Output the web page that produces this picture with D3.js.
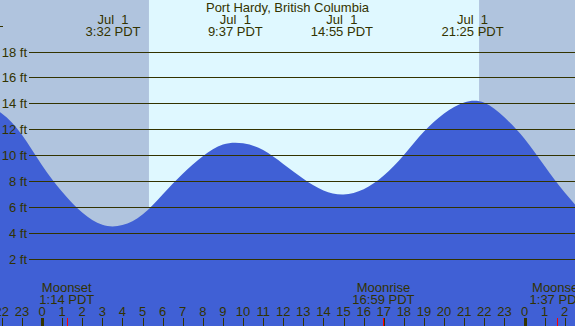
<!DOCTYPE html>
<html>
<head>
<meta charset="utf-8">
<script src="https://cdn.jsdelivr.net/npm/d3@7"></script>
<style>
  body { margin: 0; background: #fff; }
  svg { display: block; }
  text { font-family: "Liberation Sans", Arial, sans-serif; font-size: 13px; fill: #333300; white-space: pre; }
</style>
</head>
<body>
<script>
// hours from midnight Jul 1 (PDT) and tide heights in feet
var tideHours = d3.range(-3, 28);
var tideFt = [13.9, 13.25, 11.6, 9.25, 7.2, 5.6, 4.65, 4.63, 5.45, 7.0, 8.6, 9.95, 10.85, 10.95, 10.42, 9.35,
  8.2, 7.3, 7.0, 7.4, 8.45, 10.05, 11.85, 13.25, 14.1, 14.08, 12.95, 11.3, 9.2, 7.15, 5.4];

var extremeHours = [3.533, 9.617, 14.917, 21.417];
var extremeDates = ["Jul  1", "Jul  1", "Jul  1", "Jul  1"];
var extremeLabels = ["3:32 PDT", "9:37 PDT", "14:55 PDT", "21:25 PDT"];

var moonHours = [1.233, 16.983, 25.617];
var moonNames = ["Moonset", "Moonrise", "Moonset"];
var moonLabels = ["1:14 PDT", "16:59 PDT", "1:37 PDT"];

var sunrise = 5.32, sunset = 21.74;
var depthTicks = [2, 4, 6, 8, 10, 12, 14, 16, 18];
var hourTicks = d3.range(-2, 27);
var titre = "Port Hardy, British Columbia";

var width = 575, height = 326;
var ink = "#333300";

var svg = d3.select("body").append("svg")
  .attr("width", width)
  .attr("height", height);

var x = d3.scaleLinear().domain([0, 24]).range([42, 524.5]);
var y = d3.scaleLinear().domain([0, 18]).range([285, 52]);

// nuit / jour
svg.append("rect").attr("x", 0).attr("y", 0).attr("width", width).attr("height", height).attr("fill", "#b0c4de");
svg.append("rect")
  .attr("x", x(sunrise)).attr("y", 0)
  .attr("width", x(sunset) - x(sunrise)).attr("height", height)
  .attr("fill", "#dff8ff");

// marée
var aire = d3.area()
  .x(function(d, i) { return x(tideHours[i]); })
  .y0(height)
  .y1(function(d) { return y(d); })
  .curve(d3.curveNatural);

svg.append("path").datum(tideFt).attr("d", aire).attr("fill", "#4060d5");

// lignes horizontales
depthTicks.forEach(function(d) {
  var yy = Math.floor(y(d)) + 0.5;
  svg.append("line").attr("x1", 29).attr("x2", width).attr("y1", yy).attr("y2", yy)
    .attr("stroke", ink).attr("stroke-width", 1);
  svg.append("text").attr("x", 27).attr("y", yy + 4.5).attr("text-anchor", "end").text(d + " ft");
});
// bout de la ligne 20 ft
svg.append("line").attr("x1", 0).attr("x2", 3)
  .attr("y1", Math.floor(y(20)) + 0.5).attr("y2", Math.floor(y(20)) + 0.5)
  .attr("stroke", ink);

// titre et extrêmes
svg.append("text").attr("x", width / 2).attr("y", 12).attr("text-anchor", "middle").text(titre);
extremeHours.forEach(function(h, i) {
  svg.append("text").attr("x", x(h)).attr("y", 24).attr("text-anchor", "middle").text(extremeDates[i]);
  svg.append("text").attr("x", x(h)).attr("y", 36).attr("text-anchor", "middle").text(extremeLabels[i]);
});

// axe des heures
hourTicks.forEach(function(h) {
  var xx = Math.round(x(h)) + 0.5;
  var minuit = ((h % 24) + 24) % 24 === 0;
  svg.append("line").attr("x1", xx).attr("x2", xx).attr("y1", 318).attr("y2", height)
    .attr("stroke", ink).attr("stroke-width", minuit ? 3 : 1);
  svg.append("text").attr("x", x(h)).attr("y", 316).attr("text-anchor", "middle")
    .text(((h % 24) + 24) % 24);
});

// lune
moonHours.forEach(function(h, i) {
  var xx = Math.round(x(h)) + 0.5;
  svg.append("line").attr("x1", xx).attr("x2", xx).attr("y1", 318).attr("y2", height)
    .attr("stroke", "#ff0000");
  svg.append("text").attr("x", x(h)).attr("y", 292).attr("text-anchor", "middle").text(moonNames[i]);
  svg.append("text").attr("x", x(h)).attr("y", 304).attr("text-anchor", "middle").text(moonLabels[i]);
});
</script>
</body>
</html>
